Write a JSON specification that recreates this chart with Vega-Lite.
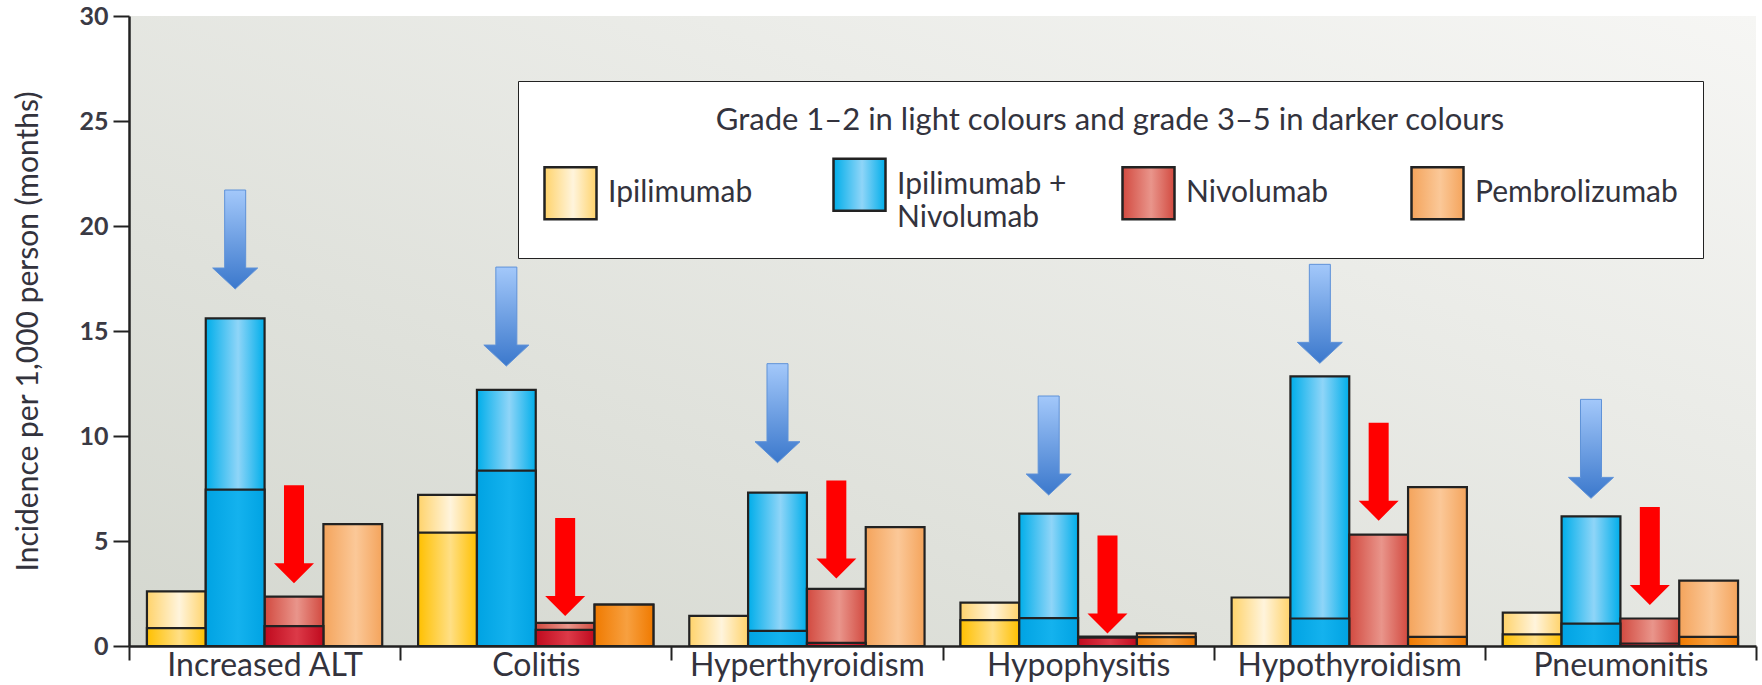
{
  "$schema": "https://vega.github.io/schema/vega-lite/v6.json",
  "width": 1627,
  "height": 630,
  "autosize": "none",
  "padding": {"left": 129, "top": 16, "right": 6, "bottom": 39},
  "background": "white",
  "config": {
    "view": {
      "stroke": null,
      "fill": {
        "gradient": "linear", "x1": 0, "y1": 1, "x2": 1, "y2": 0,
        "stops": [{"offset": 0, "color": "#d4d7cf"}, {"offset": 1, "color": "#f6f6f4"}]
      }
    },
    "style": {"guide-label": {"lineHeight": 33}}
  },
  "datasets": {
    "incidence": [
      {"category": "Increased ALT", "drug": "Ipilimumab", "all_grades": 2.6, "grade_3_5": 0.85},
      {"category": "Increased ALT", "drug": "Ipilimumab + Nivolumab", "all_grades": 15.6, "grade_3_5": 7.45},
      {"category": "Increased ALT", "drug": "Nivolumab", "all_grades": 2.35, "grade_3_5": 0.95},
      {"category": "Increased ALT", "drug": "Pembrolizumab", "all_grades": 5.8, "grade_3_5": 0},
      {"category": "Colitis", "drug": "Ipilimumab", "all_grades": 7.2, "grade_3_5": 5.4},
      {"category": "Colitis", "drug": "Ipilimumab + Nivolumab", "all_grades": 12.2, "grade_3_5": 8.35},
      {"category": "Colitis", "drug": "Nivolumab", "all_grades": 1.1, "grade_3_5": 0.77},
      {"category": "Colitis", "drug": "Pembrolizumab", "all_grades": 1.97, "grade_3_5": 1.97},
      {"category": "Hyperthyroidism", "drug": "Ipilimumab", "all_grades": 1.43, "grade_3_5": 0},
      {"category": "Hyperthyroidism", "drug": "Ipilimumab + Nivolumab", "all_grades": 7.3, "grade_3_5": 0.72},
      {"category": "Hyperthyroidism", "drug": "Nivolumab", "all_grades": 2.72, "grade_3_5": 0.15},
      {"category": "Hyperthyroidism", "drug": "Pembrolizumab", "all_grades": 5.66, "grade_3_5": 0},
      {"category": "Hypophysitis", "drug": "Ipilimumab", "all_grades": 2.07, "grade_3_5": 1.23},
      {"category": "Hypophysitis", "drug": "Ipilimumab + Nivolumab", "all_grades": 6.3, "grade_3_5": 1.33},
      {"category": "Hypophysitis", "drug": "Nivolumab", "all_grades": 0.45, "grade_3_5": 0.4},
      {"category": "Hypophysitis", "drug": "Pembrolizumab", "all_grades": 0.6, "grade_3_5": 0.42},
      {"category": "Hypothyroidism", "drug": "Ipilimumab", "all_grades": 2.31, "grade_3_5": 0},
      {"category": "Hypothyroidism", "drug": "Ipilimumab + Nivolumab", "all_grades": 12.84, "grade_3_5": 1.31},
      {"category": "Hypothyroidism", "drug": "Nivolumab", "all_grades": 5.3, "grade_3_5": 0},
      {"category": "Hypothyroidism", "drug": "Pembrolizumab", "all_grades": 7.57, "grade_3_5": 0.43},
      {"category": "Pneumonitis", "drug": "Ipilimumab", "all_grades": 1.59, "grade_3_5": 0.55},
      {"category": "Pneumonitis", "drug": "Ipilimumab + Nivolumab", "all_grades": 6.17, "grade_3_5": 1.07},
      {"category": "Pneumonitis", "drug": "Nivolumab", "all_grades": 1.31, "grade_3_5": 0.12},
      {"category": "Pneumonitis", "drug": "Pembrolizumab", "all_grades": 3.11, "grade_3_5": 0.43}
    ],
    "arrows": [
      {"category": "Increased ALT", "drug": "Ipilimumab + Nivolumab", "arrow_tip": 17.0},
      {"category": "Increased ALT", "drug": "Nivolumab", "arrow_tip": 2.99},
      {"category": "Colitis", "drug": "Ipilimumab + Nivolumab", "arrow_tip": 13.33},
      {"category": "Colitis", "drug": "Nivolumab", "arrow_tip": 1.43},
      {"category": "Hyperthyroidism", "drug": "Ipilimumab + Nivolumab", "arrow_tip": 8.73},
      {"category": "Hyperthyroidism", "drug": "Nivolumab", "arrow_tip": 3.22},
      {"category": "Hypophysitis", "drug": "Ipilimumab + Nivolumab", "arrow_tip": 7.19},
      {"category": "Hypophysitis", "drug": "Nivolumab", "arrow_tip": 0.6},
      {"category": "Hypothyroidism", "drug": "Ipilimumab + Nivolumab", "arrow_tip": 13.46},
      {"category": "Hypothyroidism", "drug": "Nivolumab", "arrow_tip": 5.97},
      {"category": "Pneumonitis", "drug": "Ipilimumab + Nivolumab", "arrow_tip": 7.03},
      {"category": "Pneumonitis", "drug": "Nivolumab", "arrow_tip": 1.95}
    ]
  },
  "encoding": {
    "x": {
      "field": "category",
      "type": "nominal",
      "title": null,
      "scale": {
        "domain": ["Increased ALT", "Colitis", "Hyperthyroidism", "Hypophysitis", "Hypothyroidism", "Pneumonitis"],
        "paddingInner": 0,
        "paddingOuter": 0
      },
      "axis": {
        "tickBand": "extent",
        "tickSize": 14,
        "tickWidth": 2,
        "tickColor": "#222",
        "domainColor": "#222",
        "domainWidth": 2.5,
        "labelAngle": 0,
        "labelFont": "Lato",
        "labelFontSize": 32,
        "labelColor": "#33333d",
        "labelPadding": -10,
        "labelLimit": 400,
        "zindex": 1
      }
    },
    "xOffset": {
      "field": "drug",
      "type": "nominal",
      "scale": {
        "domain": ["Ipilimumab", "Ipilimumab + Nivolumab", "Nivolumab", "Pembrolizumab"],
        "paddingInner": 0,
        "paddingOuter": 0.305
      }
    }
  },
  "layer": [
    {
      "data": {"name": "incidence"},
      "mark": {"type": "bar", "stroke": "#222", "strokeWidth": 2.2, "opacity": 1},
      "encoding": {
        "y": {
          "field": "all_grades",
          "type": "quantitative",
          "stack": null,
          "title": "Incidence per 1,000 person (months)",
          "scale": {"domain": [0, 30], "nice": false},
          "axis": {
            "values": [0, 5, 10, 15, 20, 25, 30],
            "grid": false,
            "tickSize": 16,
            "tickWidth": 2,
            "tickColor": "#222",
            "domainColor": "#222",
            "domainWidth": 2.5,
            "labelFont": "Lato",
            "labelFontSize": 25,
            "labelFontWeight": "bold",
            "labelColor": "#3a3a44",
            "labelPadding": 5,
            "titleFont": "Lato",
            "titleFontSize": 30,
            "titleFontWeight": "normal",
            "titleColor": "#33333d",
            "titlePadding": 35,
            "zindex": 1
          }
        },
        "color": {
          "field": "drug",
          "type": "nominal",
          "scale": {
            "domain": ["Ipilimumab", "Ipilimumab + Nivolumab", "Nivolumab", "Pembrolizumab"],
            "range": [
              {"expr": "{gradient: 'linear', x1: 0, y1: 0, x2: 1, y2: 0, stops: [{offset: 0, color: '#ffd36b'}, {offset: 0.55, color: '#fff4dc'}, {offset: 1, color: '#ffd36b'}]}"},
              {"expr": "{gradient: 'linear', x1: 0, y1: 0, x2: 1, y2: 0, stops: [{offset: 0, color: '#00aeea'}, {offset: 0.55, color: '#8fd5f8'}, {offset: 1, color: '#00aeea'}]}"},
              {"expr": "{gradient: 'linear', x1: 0, y1: 0, x2: 1, y2: 0, stops: [{offset: 0, color: '#d24a40'}, {offset: 0.55, color: '#e9958b'}, {offset: 1, color: '#d24a40'}]}"},
              {"expr": "{gradient: 'linear', x1: 0, y1: 0, x2: 1, y2: 0, stops: [{offset: 0, color: '#f4a45c'}, {offset: 0.55, color: '#fbc898'}, {offset: 1, color: '#f4a45c'}]}"}
            ]
          },
          "legend": {
            "orient": "none",
            "legendX": 389,
            "legendY": 65,
            "direction": "horizontal",
            "columns": 4,
            "gridAlign": "all",
            "columnPadding": 17,
            "padding": 25,
            "strokeColor": "#222",
            "fillColor": "white",
            "title": "Grade 1–2 in light colours and grade 3–5 in darker colours",
            "titleLimit": 1200,
            "titleAnchor": "middle",
            "titleFont": "Lato",
            "titleFontSize": 31,
            "titleFontWeight": "normal",
            "titleColor": "#33333d",
            "titlePadding": 20,
            "labelFont": "Lato",
            "labelFontSize": 30,
            "labelColor": "#33333d",
            "labelOffset": 10,
            "labelLimit": 400,
            "labelExpr": "datum.label == 'Ipilimumab + Nivolumab' ? ['Ipilimumab +', 'Nivolumab'] : datum.label",
            "symbolType": "square",
            "symbolSize": 2704,
            "symbolStrokeColor": "#222",
            "symbolStrokeWidth": 2.5
          }
        }
      }
    },
    {
      "data": {"name": "incidence"},
      "transform": [{"filter": "datum.grade_3_5 > 0"}],
      "mark": {"type": "bar", "stroke": "#222", "strokeWidth": 2.2, "opacity": 1},
      "encoding": {
        "y": {"field": "grade_3_5", "type": "quantitative", "stack": null},
        "fill": {
          "field": "drug",
          "type": "nominal",
          "legend": null,
          "scale": {
            "domain": ["Ipilimumab", "Ipilimumab + Nivolumab", "Nivolumab", "Pembrolizumab"],
            "range": [
              {"expr": "{gradient: 'linear', x1: 0, y1: 0, x2: 1, y2: 0, stops: [{offset: 0, color: '#ffc000'}, {offset: 0.55, color: '#ffdf85'}, {offset: 1, color: '#ffc000'}]}"},
              {"expr": "{gradient: 'linear', x1: 0, y1: 0, x2: 1, y2: 0, stops: [{offset: 0, color: '#00a3e3'}, {offset: 0.55, color: '#14b2ee'}, {offset: 1, color: '#00a3e3'}]}"},
              {"expr": "{gradient: 'linear', x1: 0, y1: 0, x2: 1, y2: 0, stops: [{offset: 0, color: '#c00a1e'}, {offset: 0.55, color: '#dc3a48'}, {offset: 1, color: '#c00a1e'}]}"},
              {"expr": "{gradient: 'linear', x1: 0, y1: 0, x2: 1, y2: 0, stops: [{offset: 0, color: '#f07a00'}, {offset: 0.55, color: '#f7a040'}, {offset: 1, color: '#f07a00'}]}"}
            ]
          }
        }
      }
    },
    {
      "data": {"name": "arrows"},
      "transform": [{"filter": "datum.drug == 'Ipilimumab + Nivolumab'"}],
      "mark": {
        "type": "point",
        "shape": "M -0.467 -4.4 L 0.467 -4.4 L 0.467 -0.933 L 1 -0.933 L 0 0 L -1 -0.933 L -0.467 -0.933 Z",
        "size": 2025,
        "filled": true,
        "opacity": 1,
        "color": {
          "gradient": "linear", "x1": 0, "y1": 0, "x2": 0, "y2": 1,
          "stops": [{"offset": 0, "color": "#a3c8fa"}, {"offset": 1, "color": "#3b78cc"}]
        },
        "stroke": "#5f92d8",
        "strokeWidth": 1
      },
      "encoding": {
        "y": {"field": "arrow_tip", "type": "quantitative"}
      }
    },
    {
      "data": {"name": "arrows"},
      "transform": [{"filter": "datum.drug == 'Nivolumab'"}],
      "mark": {
        "type": "point",
        "shape": "M -0.5 -4.9 L 0.5 -4.9 L 0.5 -1 L 1 -1 L 0 0 L -1 -1 L -0.5 -1 Z",
        "size": 1600,
        "filled": true,
        "opacity": 1,
        "color": "#ff0000",
        "strokeWidth": 0
      },
      "encoding": {
        "y": {"field": "arrow_tip", "type": "quantitative"}
      }
    }
  ]
}
